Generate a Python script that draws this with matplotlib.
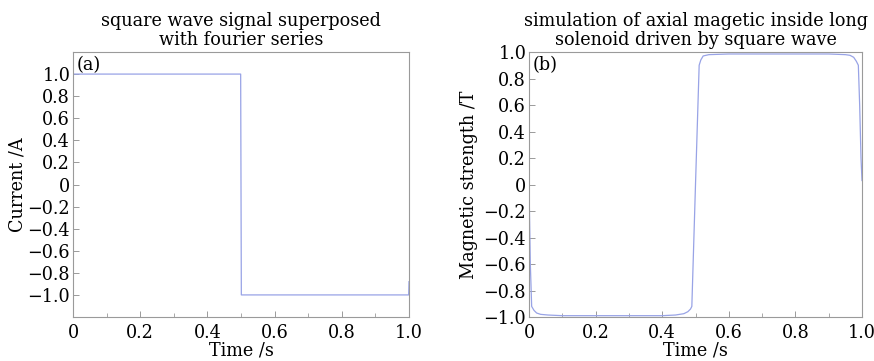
import matplotlib
matplotlib.use("Agg")
import matplotlib.pyplot as plt
from matplotlib.ticker import FixedLocator, FixedFormatter, MultipleLocator

# ---- data ----
time_a = [0.0, 0.001, 0.499, 0.501, 0.999, 1.0]
current_a = [0.0, 1.0, 1.0, -1.0, -1.0, -0.88]

time_b = [0.0, 0.004, 0.008, 0.015, 0.023, 0.035, 0.057, 0.1, 0.2, 0.3, 0.4, 0.44, 0.465, 0.477,
          0.485, 0.489, 0.5, 0.511, 0.516, 0.523, 0.54, 0.6, 0.7, 0.8, 0.9, 0.95, 0.964, 0.975,
          0.983, 0.989, 0.993, 0.997, 1.0]
field_b = [0.0, -0.6, -0.92, -0.95, -0.97, -0.98, -0.985, -0.99, -0.99, -0.99, -0.99, -0.985, -0.975, -0.96,
           -0.94, -0.92, 0.0, 0.90, 0.94, 0.97, 0.98, 0.985, 0.985, 0.985, 0.985, 0.98, 0.975, 0.96,
           0.93, 0.90, 0.6, 0.2, 0.03]

x_ticks = [0.0, 0.2, 0.4, 0.6, 0.8, 1.0]
x_labels = ["0", "0.2", "0.4", "0.6", "0.8", "1.0"]
y_ticks = [1.0, 0.8, 0.6, 0.4, 0.2, 0.0, -0.2, -0.4, -0.6, -0.8, -1.0]
y_labels = ["1.0", "0.8", "0.6", "0.4", "0.2", "0", "\u22120.2", "\u22120.4", "\u22120.6", "\u22120.8", "\u22121.0"]

titles = ["square wave signal superposed\nwith fourier series",
          "simulation of axial magetic inside long\nsolenoid driven by square wave"]
ylabels = ["Current /A", "Magnetic strength /T"]
panel = ["(a)", "(b)"]
xlabel = "Time /s"

plt.rcParams['font.family'] = ['DejaVu Serif']
FS = 12.7
line_color = '#98a3e6'
spine_color = '#9a9a9a'

fig = plt.figure(figsize=(8.74, 3.61), dpi=100)
ax1 = fig.add_axes([73/874, 1-317/361, (409-73)/874, (317-52)/361])
ax2 = fig.add_axes([529/874, 1-317/361, (862-529)/874, (317-52)/361])

ax1.plot(time_a, current_a, color=line_color, lw=0.9)
ax2.plot(time_b, field_b, color=line_color, lw=0.9)

ax1.set_ylim(-1.2, 1.2)
ax2.set_ylim(-1.0, 1.0)

for i, ax in enumerate([ax1, ax2]):
    ax.set_xlim(0, 1.0)
    ax.xaxis.set_major_locator(FixedLocator(x_ticks))
    ax.xaxis.set_major_formatter(FixedFormatter(x_labels))
    ax.xaxis.set_minor_locator(MultipleLocator(0.1))
    ax.yaxis.set_major_locator(FixedLocator(y_ticks))
    ax.yaxis.set_major_formatter(FixedFormatter(y_labels))
    ax.tick_params(which='both', direction='in', colors=spine_color, labelcolor='black',
                   labelsize=FS, top=False, right=False)
    ax.tick_params(which='major', length=4, width=0.7)
    ax.tick_params(axis='x', which='major', pad=5)
    ax.tick_params(axis='y', which='major', pad=2)
    ax.tick_params(which='minor', length=3, width=0.6)
    for s in ax.spines.values():
        s.set_color(spine_color)
        s.set_linewidth(0.8)
    ax.set_title(titles[i], fontsize=FS, pad=5, linespacing=1.05)
    ax.set_xlabel(xlabel, fontsize=FS, labelpad=0)
    ax.set_ylabel(ylabels[i], fontsize=FS, labelpad=1 if i == 0 else 4)
    ax.text(0.012, 0.985, panel[i], transform=ax.transAxes, fontsize=FS, va='top', ha='left')

fig.savefig("out.png", dpi=100)
